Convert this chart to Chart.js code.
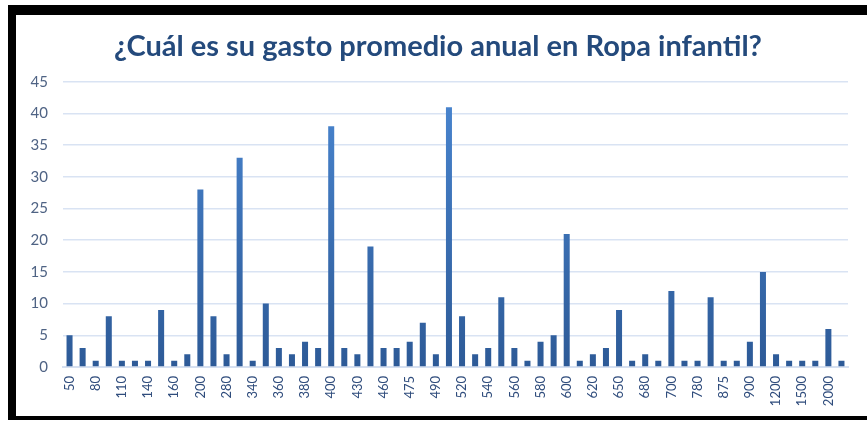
<!DOCTYPE html>
<html>
<head>
<meta charset="utf-8">
<script src="https://cdn.jsdelivr.net/npm/chart.js@4.4.1/dist/chart.umd.min.js"></script>
<style>
  html, body { margin: 0; padding: 0; background: #ffffff; overflow: hidden; }
  #frame {
    position: absolute; left: 8px; top: 5px; width: 900px; height: 401px;
    border-top: 10px solid #000; border-left: 8px solid #000; border-bottom: 4px solid #000;
    box-sizing: content-box;
  }
  #wrap { position: absolute; left: 0; top: 0; width: 867px; height: 421px; }
</style>
</head>
<body>
<div id="frame"></div>
<div id="wrap"><canvas id="c" width="867" height="421"></canvas></div>
<script>
// Categories (every other label is visible in the reference; hidden ones estimated)
const categories = [
  "50","60","80","100","110","120","140","150","160","180",
  "200","250","280","300","340","350","360","370","380","390",
  "400","420","430","450","460","470","475","480","490","500",
  "520","530","540","550","560","570","580","590","600","610",
  "620","640","650","670","680","690","700","750","780","800",
  "875","890","900","1000","1200","1300","1500","1800","2000","2500"
];
const counts = [
  5,3,1,8,1,1,1,9,1,2,
  28,8,2,33,1,10,3,2,4,3,
  38,3,2,19,3,3,4,7,2,41,
  8,2,3,11,3,1,4,5,21,1,
  2,3,9,1,2,1,12,1,1,11,
  1,1,4,15,2,1,1,1,6,1
];
const yTicks = [0,5,10,15,20,25,30,35,40,45];
const titleText = "¿Cuál es su gasto promedio anual en Ropa infantil?";

const ctx = document.getElementById('c').getContext('2d');

function barGradient(context) {
  const chart = context.chart;
  const area = chart.chartArea;
  if (!area) return '#3f73b8';
  const g = chart.ctx.createLinearGradient(0, area.top, 0, area.bottom);
  g.addColorStop(0, '#4a87d2');
  g.addColorStop(1, '#2d5a97');
  return g;
}

new Chart(ctx, {
  type: 'bar',
  data: {
    labels: categories,
    datasets: [{
      data: counts,
      backgroundColor: barGradient,
      borderWidth: 0,
      barPercentage: 0.46,
      categoryPercentage: 1.0
    }]
  },
  options: {
    responsive: false,
    animation: false,
    devicePixelRatio: 1,
    layout: { padding: { left: 28, right: 19, top: 0, bottom: 0 } },
    plugins: {
      legend: { display: false },
      tooltip: { enabled: false },
      title: {
        display: true,
        text: titleText,
        color: '#244a7c',
        font: { family: 'Lato', size: 29, weight: 'bold' },
        padding: { top: 29, bottom: 18 }
      }
    },
    scales: {
      x: {
        offset: true,
        grid: { display: false, drawTicks: false },
        border: { display: true, color: '#d6e0f0', width: 2 },
        ticks: {
          autoSkip: false,
          maxRotation: 90,
          minRotation: 90,
          padding: 9,
          color: '#2f4c7c',
          font: { family: 'Lato', size: 13 },
          callback: function(value, index) {
            return index % 2 === 0 ? this.getLabelForValue(value) : '';
          }
        },
        afterFit: function(scale) { scale.height = 54; }
      },
      y: {
        min: 0,
        max: 45,
        afterBuildTicks: function(scale) {
          scale.ticks = yTicks.map(v => ({ value: v }));
        },
        grid: { color: '#d9e3f3', lineWidth: 1.5, drawTicks: false },
        border: { display: false },
        ticks: {
          padding: 15,
          color: '#4f6384',
          font: { family: 'Lato', size: 15 }
        },
        afterFit: function(scale) { scale.width = 35; }
      }
    }
  }
});
</script>
</body>
</html>
